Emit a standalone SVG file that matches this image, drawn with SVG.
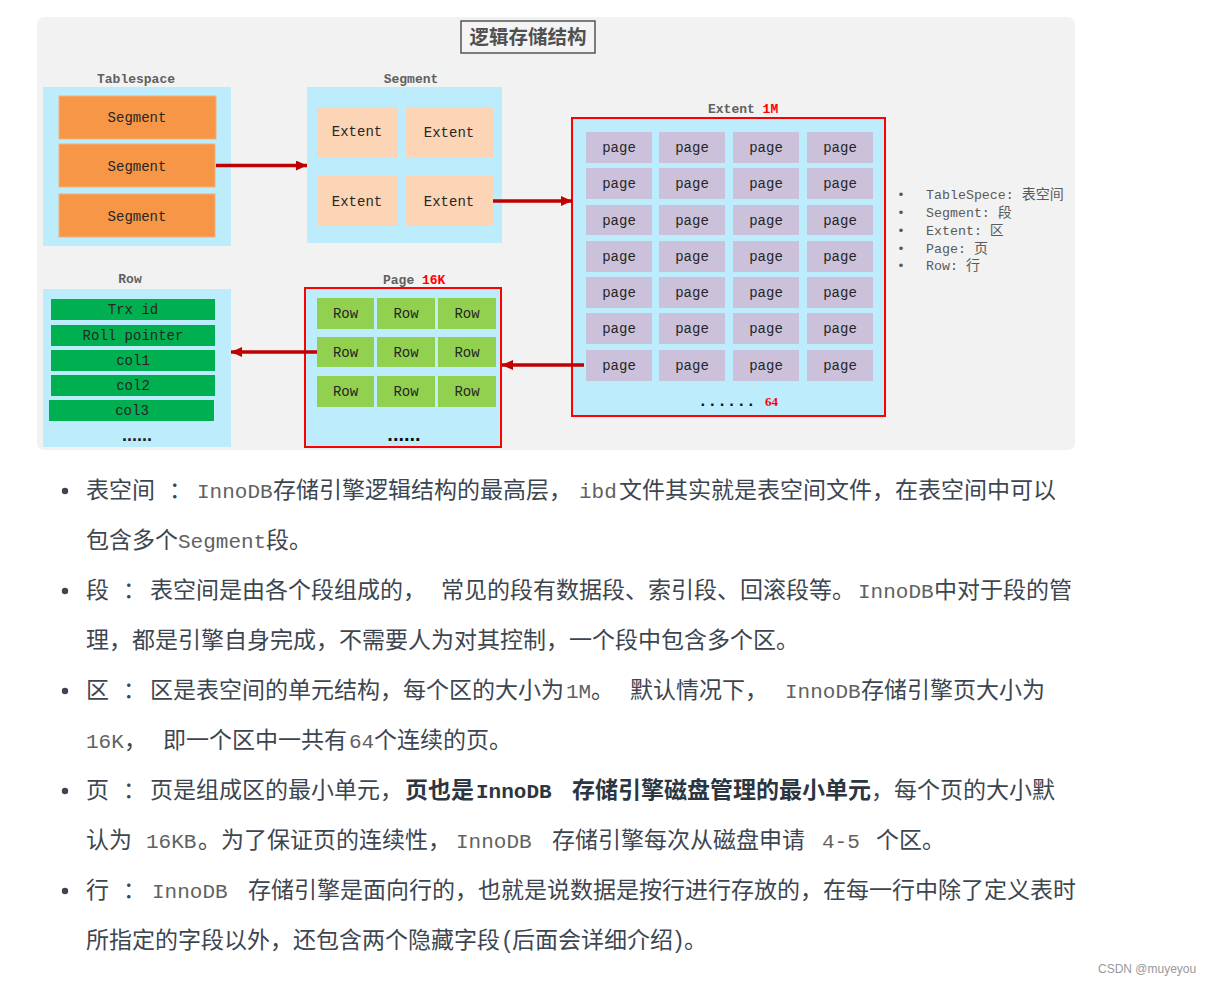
<svg xmlns="http://www.w3.org/2000/svg" width="1210" height="985" viewBox="0 0 1210 985">
<defs>
<marker id="ah" markerUnits="userSpaceOnUse" markerWidth="12" markerHeight="10" refX="11" refY="5" orient="auto">
<path d="M0,0 L11,5 L0,10 z" fill="#C00000"/>
</marker>
<style>
.lb{fill:#bdecfc}
.hd{font-family:"Liberation Mono",monospace;font-weight:bold;font-size:13px;fill:#606060}
.red{fill:#FF0000}
.m{font-family:"Liberation Mono",monospace;font-size:14px;fill:#262626;text-anchor:middle}
.seg{fill:#F79646;stroke:#f3b07c;stroke-width:1}
.ext{fill:#FBD5B5}
.pg{fill:#CCC1DA}
.rw{fill:#92D050}
.col{fill:#00B050}
.box{fill:#bdecfc;stroke:#FF0000;stroke-width:2}
.arr{stroke:#C00000;stroke-width:3.5;fill:none;marker-end:url(#ah)}
.lg{font-family:"Liberation Mono","Noto Sans CJK SC",monospace;font-size:13.3px;fill:#5a5a5a}
.zh{font-family:"Liberation Sans","Noto Sans CJK SC",sans-serif;font-size:23px;fill:#3d4650}
.mo{font-family:"Liberation Mono",monospace;font-size:21px;fill:#626262}
.b{font-weight:bold;fill:#2c3640}
</style>
</defs>
<rect x="37" y="17" width="1038" height="433" rx="7" fill="#f2f2f2"/>
<g id="title">
<rect x="461" y="21" width="134" height="32" fill="#f4f4f4" stroke="#555" stroke-width="1.5"/>
<text x="528" y="44" text-anchor="middle" font-family="'Noto Sans CJK SC',sans-serif" font-weight="bold" font-size="19.5" fill="#505050">逻辑存储结构</text>
</g>
<g id="tablespace">
<text class="hd" x="136" y="83" text-anchor="middle">Tablespace</text>
<rect class="lb" x="43" y="87" width="188" height="159"/>
<rect class="seg" x="59" y="96" width="157" height="43"/>
<rect class="seg" x="59" y="144" width="156" height="43"/>
<rect class="seg" x="59" y="194" width="156" height="43"/>
<text class="m" x="137" y="121.5">Segment</text>
<text class="m" x="137" y="170.5">Segment</text>
<text class="m" x="137" y="220.5">Segment</text>
</g>
<g id="segment">
<text class="hd" x="411" y="83" text-anchor="middle">Segment</text>
<rect class="lb" x="307" y="87" width="195" height="156"/>
<rect class="ext" x="317" y="107" width="81" height="50"/>
<rect class="ext" x="406" y="107" width="87" height="50"/>
<rect class="ext" x="317" y="176" width="81" height="50"/>
<rect class="ext" x="406" y="176" width="87" height="50"/>
<text class="m" x="357" y="136">Extent</text>
<text class="m" x="449" y="137">Extent</text>
<text class="m" x="357" y="206">Extent</text>
<text class="m" x="449" y="206">Extent</text>
</g>
<g id="extent">
<text class="hd" x="708" y="113">Extent <tspan class="red">1M</tspan></text>
<rect class="box" x="572" y="118" width="313" height="298"/>
<g class="pg">
<rect x="586" y="132" width="66" height="31"/><rect x="659" y="132" width="66" height="31"/><rect x="733" y="132" width="66" height="31"/><rect x="807" y="132" width="66" height="31"/>
<rect x="586" y="168" width="66" height="31"/><rect x="659" y="168" width="66" height="31"/><rect x="733" y="168" width="66" height="31"/><rect x="807" y="168" width="66" height="31"/>
<rect x="586" y="205" width="66" height="30"/><rect x="659" y="205" width="66" height="30"/><rect x="733" y="205" width="66" height="30"/><rect x="807" y="205" width="66" height="30"/>
<rect x="586" y="241" width="66" height="31"/><rect x="659" y="241" width="66" height="31"/><rect x="733" y="241" width="66" height="31"/><rect x="807" y="241" width="66" height="31"/>
<rect x="586" y="277" width="66" height="31"/><rect x="659" y="277" width="66" height="31"/><rect x="733" y="277" width="66" height="31"/><rect x="807" y="277" width="66" height="31"/>
<rect x="586" y="313" width="66" height="31"/><rect x="659" y="313" width="66" height="31"/><rect x="733" y="313" width="66" height="31"/><rect x="807" y="313" width="66" height="31"/>
<rect x="586" y="350" width="66" height="31"/><rect x="659" y="350" width="66" height="31"/><rect x="733" y="350" width="66" height="31"/><rect x="807" y="350" width="66" height="31"/>
</g>
<g class="m">
<text x="619" y="152">page</text><text x="692" y="152">page</text><text x="766" y="152">page</text><text x="840" y="152">page</text>
<text x="619" y="188">page</text><text x="692" y="188">page</text><text x="766" y="188">page</text><text x="840" y="188">page</text>
<text x="619" y="225">page</text><text x="692" y="225">page</text><text x="766" y="225">page</text><text x="840" y="225">page</text>
<text x="619" y="261">page</text><text x="692" y="261">page</text><text x="766" y="261">page</text><text x="840" y="261">page</text>
<text x="619" y="297">page</text><text x="692" y="297">page</text><text x="766" y="297">page</text><text x="840" y="297">page</text>
<text x="619" y="333">page</text><text x="692" y="333">page</text><text x="766" y="333">page</text><text x="840" y="333">page</text>
<text x="619" y="370">page</text><text x="692" y="370">page</text><text x="766" y="370">page</text><text x="840" y="370">page</text>
</g>
<text x="698" y="406" font-family="'Liberation Mono',monospace" font-weight="bold" font-size="16" fill="#111">......</text>
<text x="765" y="406" font-family="'Liberation Serif',serif" font-weight="bold" font-size="13" fill="#FF0000">64</text>
</g>
<g id="legend" class="lg">
<text x="897" y="199">•</text><text x="926" y="199">TableSpece: <tspan font-size="14">表空间</tspan></text>
<text x="897" y="217">•</text><text x="926" y="217">Segment: <tspan font-size="14">段</tspan></text>
<text x="897" y="235">•</text><text x="926" y="235">Extent: <tspan font-size="14">区</tspan></text>
<text x="897" y="253">•</text><text x="926" y="253">Page: <tspan font-size="14">页</tspan></text>
<text x="897" y="270">•</text><text x="926" y="270">Row: <tspan font-size="14">行</tspan></text>
</g>
<g id="page">
<text class="hd" x="383" y="284">Page <tspan class="red">16K</tspan></text>
<rect class="box" x="305" y="288" width="196" height="159"/>
<rect class="rw" x="317" y="298" width="57" height="31"/><rect class="rw" x="377" y="298" width="58" height="31"/><rect class="rw" x="438" y="298" width="58" height="31"/>
<rect class="rw" x="317" y="337" width="57" height="30"/><rect class="rw" x="377" y="337" width="58" height="30"/><rect class="rw" x="438" y="337" width="58" height="30"/>
<rect class="rw" x="317" y="376" width="57" height="31"/><rect class="rw" x="377" y="376" width="58" height="31"/><rect class="rw" x="438" y="376" width="58" height="31"/>
<g class="m">
<text x="345.5" y="318">Row</text><text x="406" y="318">Row</text><text x="467" y="318">Row</text>
<text x="345.5" y="357">Row</text><text x="406" y="357">Row</text><text x="467" y="357">Row</text>
<text x="345.5" y="396">Row</text><text x="406" y="396">Row</text><text x="467" y="396">Row</text>
</g>
<text x="404" y="441" text-anchor="middle" font-family="'Liberation Sans',sans-serif" font-weight="bold" font-size="20" fill="#111">......</text>
</g>
<g id="row">
<text class="hd" x="130" y="283" text-anchor="middle">Row</text>
<rect class="lb" x="43" y="289" width="188" height="158"/>
<rect class="col" x="51" y="299" width="164" height="21"/>
<rect class="col" x="51" y="325" width="164" height="21"/>
<rect class="col" x="51" y="350" width="164" height="21"/>
<rect class="col" x="51" y="375" width="164" height="21"/>
<rect class="col" x="49" y="400" width="165" height="21"/>
<text class="m" x="133" y="314">Trx id</text>
<text class="m" x="133" y="339.5">Roll pointer</text>
<text class="m" x="133" y="365">col1</text>
<text class="m" x="133" y="390">col2</text>
<text class="m" x="132" y="415">col3</text>
<text x="137" y="441" text-anchor="middle" font-family="'Liberation Sans',sans-serif" font-weight="bold" font-size="18" fill="#222">......</text>
</g>
<g id="connectors">
<line class="arr" x1="216" y1="165.5" x2="307" y2="165.5"/>
<line class="arr" x1="493" y1="201" x2="572" y2="201"/>
<line class="arr" x1="584" y1="365" x2="502" y2="365"/>
<line class="arr" x1="317" y1="352" x2="231" y2="352"/>
</g>
<g id="body">
<circle cx="65" cy="491" r="3.2" fill="#3d4650"/>
<circle cx="65" cy="591" r="3.2" fill="#3d4650"/>
<circle cx="65" cy="691" r="3.2" fill="#3d4650"/>
<circle cx="65" cy="791" r="3.2" fill="#3d4650"/>
<circle cx="65" cy="891" r="3.2" fill="#3d4650"/>
<text class="zh" y="498"><tspan x="86">表空间</tspan><tspan x="169">：</tspan><tspan class="mo" x="197">InnoDB</tspan><tspan x="273">存储引擎逻辑结构的最高层，</tspan><tspan class="mo" x="579">ibd</tspan><tspan x="619">文件其实就是表空间文件，在表空间中可以</tspan></text>
<text class="zh" y="548"><tspan x="86">包含多个</tspan><tspan class="mo" x="178">Segment</tspan><tspan x="266">段。</tspan></text>
<text class="zh" y="598"><tspan x="86">段</tspan><tspan x="123">：</tspan><tspan x="150">表空间是由各个段组成的，</tspan><tspan x="441">常见的段有数据段、索引段、回滚段等。</tspan><tspan class="mo" x="858">InnoDB</tspan><tspan x="934">中对于段的管</tspan></text>
<text class="zh" y="648"><tspan x="86">理，都是引擎自身完成，不需要人为对其控制，一个段中包含多个区。</tspan></text>
<text class="zh" y="698"><tspan x="86">区</tspan><tspan x="123">：</tspan><tspan x="150">区是表空间的单元结构，每个区的大小为</tspan><tspan class="mo" x="566">1M</tspan><tspan x="591">。</tspan><tspan x="630">默认情况下，</tspan><tspan class="mo" x="785">InnoDB</tspan><tspan x="861">存储引擎页大小为</tspan></text>
<text class="zh" y="748"><tspan class="mo" x="86">16K</tspan><tspan x="124">，</tspan><tspan x="163">即一个区中一共有</tspan><tspan class="mo" x="349">64</tspan><tspan x="374">个连续的页。</tspan></text>
<text class="zh" y="798"><tspan x="86">页</tspan><tspan x="123">：</tspan><tspan x="150">页是组成区的最小单元，</tspan><tspan class="b" x="405">页也是</tspan><tspan class="mo b" x="476">InnoDB</tspan><tspan class="b" x="572">存储引擎磁盘管理的最小单元</tspan><tspan x="871">，每个页的大小默</tspan></text>
<text class="zh" y="848"><tspan x="86">认为</tspan><tspan class="mo" x="146">16KB</tspan><tspan x="198">。为了保证页的连续性，</tspan><tspan class="mo" x="456">InnoDB</tspan><tspan x="552">存储引擎每次从磁盘申请</tspan><tspan class="mo" x="822">4-5</tspan><tspan x="876">个区。</tspan></text>
<text class="zh" y="898"><tspan x="86">行</tspan><tspan x="123">：</tspan><tspan class="mo" x="152">InnoDB</tspan><tspan x="248">存储引擎是面向行的，也就是说数据是按行进行存放的，在每一行中除了定义表时</tspan></text>
<text class="zh" y="948"><tspan x="86">所指定的字段以外，还包含两个隐藏字段</tspan><tspan x="503">(</tspan><tspan x="512">后面会详细介绍</tspan><tspan x="675">)</tspan><tspan x="684">。</tspan></text>
</g>
<text x="1098" y="973" font-family="'Liberation Sans',sans-serif" font-size="12" fill="#999">CSDN @muyeyou</text>
</svg>
